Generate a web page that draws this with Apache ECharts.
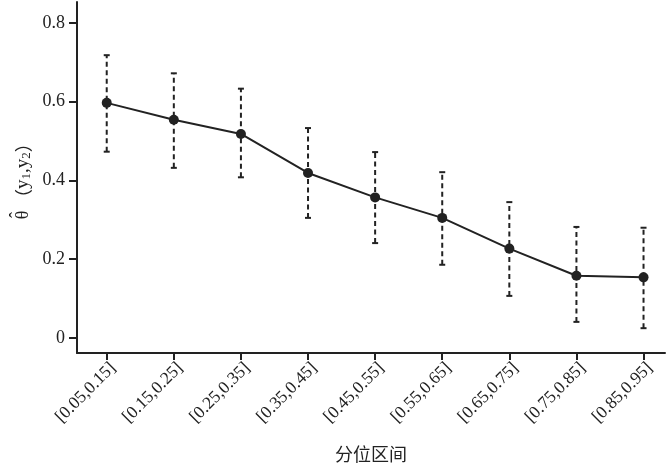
<!DOCTYPE html>
<html><head><meta charset="utf-8">
<script src="https://cdn.jsdelivr.net/npm/echarts@6/dist/echarts.min.js"></script>
<style>html,body{margin:0;padding:0;background:#fff}#c{width:667px;height:468px}</style>
</head><body><div id="c"></div>
<script>
var categories = ['[0.05,0.15]','[0.15,0.25]','[0.25,0.35]','[0.35,0.45]','[0.45,0.55]','[0.55,0.65]','[0.65,0.75]','[0.75,0.85]','[0.85,0.95]'];
var estimate = [0.597, 0.554, 0.518, 0.419, 0.357, 0.305, 0.227, 0.158, 0.154];
var lower = [0.473, 0.432, 0.408, 0.305, 0.241, 0.186, 0.107, 0.041, 0.025];
var upper = [0.718, 0.672, 0.633, 0.533, 0.472, 0.421, 0.345, 0.282, 0.280];
var yTicks = [0, 0.2, 0.4, 0.6, 0.8];

var xIdx = categories.map(function(c,i){return i+1;});
var lineData = estimate.map(function(v,i){return [i+1, v];});
var errData = lower.map(function(v,i){return [i+1, v, upper[i]];});
var serif = '"Liberation Serif","DejaVu Serif",serif';
var cjk = '"Noto Sans CJK SC",sans-serif';
var ink = '#222';

var chart = echarts.init(document.getElementById('c'), null, {renderer:'canvas'});
chart.setOption({
  animation:false,
  backgroundColor:'#fff',
  grid:{left:77, right:2, top:2, bottom:114, containLabel:false},
  graphic:[{
    type:'group', x:23, y:185, rotation:Math.PI/2,
    children:[
      {type:'text', x:-30, y:0, style:{text:'θ', font:'18px "Liberation Serif",serif', fill:ink, align:'center', verticalAlign:'middle'}},
      {type:'text', x:-30, y:-6, style:{text:'ˆ', font:'18px "Liberation Serif",serif', fill:ink, align:'center', verticalAlign:'middle'}},
      {type:'text', x:-22, y:0, style:{
        text:'{p|（}{v|y}{s|1}{v|,y}{s|2}{p|）}', align:'left', verticalAlign:'middle', fill:ink,
        rich:{
          p:{fontFamily:cjk, fontSize:18, fill:ink},
          v:{fontFamily:serif, fontSize:19, fill:ink},
          s:{fontFamily:serif, fontSize:13, fill:ink, verticalAlign:'bottom', padding:[7,0,0,0]}
        }}}
    ]
  }],
  xAxis:{
    type:'value', min:0.557, max:9.32,
    name:'分位区间', nameLocation:'middle', nameGap:92,
    nameTextStyle:{fontFamily:cjk, fontSize:18, color:ink},
    axisLine:{onZero:false, lineStyle:{color:ink, width:2}},
    axisTick:{show:true, customValues:xIdx, length:7, lineStyle:{color:ink, width:2}},
    axisLabel:{customValues:xIdx, rotate:45, fontFamily:serif, fontSize:17.5, color:ink, margin:6,
      verticalAlign:'top',
      formatter:function(v){return categories[Math.round(v)-1];}},
    splitLine:{show:false}
  },
  yAxis:{
    type:'value', min:-0.038, max:0.853,
    axisLine:{onZero:false, lineStyle:{color:ink, width:2}},
    axisTick:{show:true, customValues:yTicks, length:8, lineStyle:{color:ink, width:2}},
    axisLabel:{customValues:yTicks, fontFamily:serif, fontSize:18, color:ink, margin:12,
      formatter:function(v){return v===0?'0':v.toFixed(1);}},
    splitLine:{show:false}
  },
  series:[
    {
      type:'custom',
      data:errData,
      encode:{x:0, y:[1,2]},
      z:2,
      renderItem:function(params, api){
        var x = api.value(0);
        var pLo = api.coord([x, api.value(1)]);
        var pHi = api.coord([x, api.value(2)]);
        var w = 3;
        return {type:'group', children:[
          {type:'line', shape:{x1:pLo[0], y1:pLo[1], x2:pHi[0], y2:pHi[1]}, style:{stroke:ink, lineWidth:2, lineDash:[5,3.5]}},
          {type:'line', shape:{x1:pLo[0]-w, y1:pLo[1], x2:pLo[0]+w, y2:pLo[1]}, style:{stroke:ink, lineWidth:2}},
          {type:'line', shape:{x1:pHi[0]-w, y1:pHi[1], x2:pHi[0]+w, y2:pHi[1]}, style:{stroke:ink, lineWidth:2}}
        ]};
      }
    },
    {
      type:'line',
      data:lineData,
      z:3,
      symbol:'circle', symbolSize:10,
      itemStyle:{color:ink},
      lineStyle:{color:ink, width:2}
    }
  ]
});
</script></body></html>
